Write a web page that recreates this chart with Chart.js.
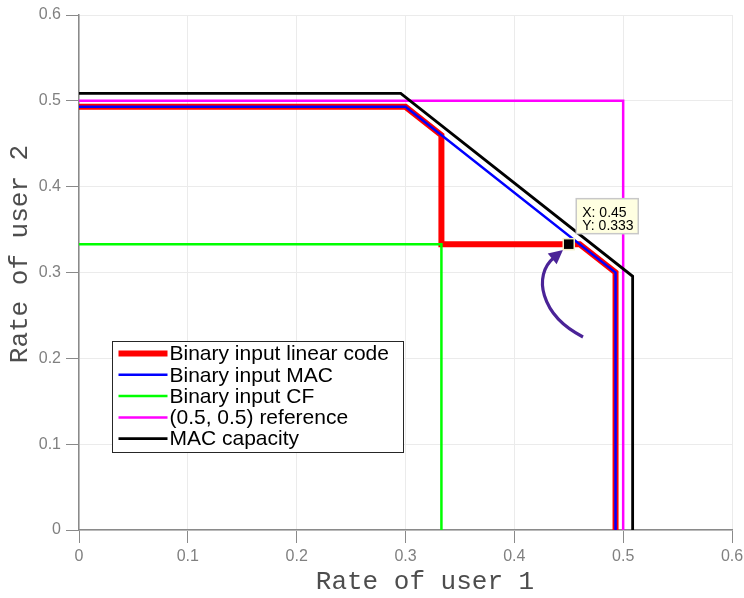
<!DOCTYPE html>
<html lang="en">
<head>
  <meta charset="UTF-8">
  <title>Rate region</title>
  <script src="https://cdn.jsdelivr.net/npm/chart.js"></script>
  <style>
    * { margin: 0; padding: 0; box-sizing: border-box; }
    body { background: #fff; width: 744px; height: 598px; overflow: hidden; }
    .wrap { position: relative; width: 744px; height: 598px; }
  </style>
</head>
<body>
  <div class="wrap"><canvas id="chart"></canvas></div>

  <script>
    // Series (x = rate of user 1, y = rate of user 2)
    const linearX = [0, 0.3, 0.333, 0.333, 0.46, 0.493, 0.493];
    const linearY = [0.493, 0.493, 0.46, 0.333, 0.333, 0.3, 0];
    const macX = [0, 0.3, 0.493, 0.493];
    const macY = [0.493, 0.493, 0.3, 0];
    const cfX = [0, 0.333, 0.333];
    const cfY = [0.333, 0.333, 0];
    const refX = [0, 0.5, 0.5];
    const refY = [0.5, 0.5, 0];
    const capX = [0, 0.2956, 0.5087, 0.5087];
    const capY = [0.5087, 0.5087, 0.2956, 0];

    const seriesNames = ['Binary input linear code', 'Binary input MAC', 'Binary input CF', '(0.5, 0.5) reference', 'MAC capacity'];
    const xTickLabels = ['0', '0.1', '0.2', '0.3', '0.4', '0.5', '0.6'];
    const yTickLabels = ['0', '0.1', '0.2', '0.3', '0.4', '0.5', '0.6'];

    // data tip + arrow (data units)
    const tipPoint = { x: 0.45, y: 0.333 };
    const arrowPath = [[0.4631, 0.2249], [0.4236, 0.2505], [0.4170, 0.2971], [0.4447, 0.3262]];

    const pts = (xs, ys) => xs.map((x, i) => ({ x, y: ys[i] }));

    function line(label, xs, ys, color, width, order) {
      return {
        label,
        data: pts(xs, ys),
        showLine: true,
        borderColor: color,
        backgroundColor: color,
        borderWidth: width,
        pointRadius: 0,
        borderCapStyle: 'butt',
        borderJoinStyle: 'miter',
        clip: false,
        order
      };
    }

    const datasets = [
      line(seriesNames[0], linearX, linearY, '#ff0000', 6, 5),
      line(seriesNames[1], macX, macY, '#0000ff', 2.5, 4),
      line(seriesNames[2], cfX, cfY, '#00ff00', 2.5, 3),
      line(seriesNames[3], refX, refY, '#ff00ff', 2.5, 2),
      line(seriesNames[4], capX, capY, '#000000', 2.8, 1)
    ];

    const extras = {
      id: 'extras',
      afterDatasetsDraw(chart) {
        const { ctx, chartArea: a, scales: { x, y } } = chart;
        ctx.save();

        // arrow
        const p = arrowPath.map(([dx, dy]) => [x.getPixelForValue(dx), y.getPixelForValue(dy)]);
        const tip = p[3];
        let ux = tip[0] - p[2][0], uy = tip[1] - p[2][1];
        const len = Math.hypot(ux, uy); ux /= len; uy /= len;
        const headLen = 14, headW = 7;
        const base = [tip[0] - ux * headLen, tip[1] - uy * headLen];
        ctx.strokeStyle = '#4a2397';
        ctx.fillStyle = '#4a2397';
        ctx.lineWidth = 3.2;
        ctx.beginPath();
        ctx.moveTo(p[0][0], p[0][1]);
        ctx.bezierCurveTo(p[1][0], p[1][1], p[2][0], p[2][1], base[0] + ux * 2, base[1] + uy * 2);
        ctx.stroke();
        ctx.beginPath();
        ctx.moveTo(tip[0], tip[1]);
        ctx.lineTo(base[0] - uy * headW, base[1] + ux * headW);
        ctx.lineTo(base[0] + uy * headW, base[1] - ux * headW);
        ctx.closePath();
        ctx.fill();

        // data tip marker
        const mx = x.getPixelForValue(tipPoint.x), my = y.getPixelForValue(tipPoint.y);
        ctx.fillStyle = '#000';
        ctx.strokeStyle = '#f3f0c8';
        ctx.lineWidth = 1.5;
        ctx.fillRect(mx - 5.5, my - 5.5, 11, 11);
        ctx.strokeRect(mx - 5.5, my - 5.5, 11, 11);

        // data tip box
        const bx = mx + 7.5, by = my - 45.5;
        ctx.fillStyle = '#ffffe1';
        ctx.strokeStyle = '#c8c8c8';
        ctx.lineWidth = 1.5;
        ctx.fillRect(bx, by, 62, 35);
        ctx.strokeRect(bx, by, 62, 35);
        ctx.fillStyle = '#000';
        ctx.font = '14px "Liberation Sans", Arial, sans-serif';
        ctx.textBaseline = 'alphabetic';
        ctx.textAlign = 'left';
        ctx.fillText('X: ' + tipPoint.x, bx + 6, by + 18);
        ctx.fillText('Y: ' + tipPoint.y, bx + 6, by + 31);

        // legend
        const lx = a.left + 33.5, ly = a.top + 326.5, lw = 291, lh = 111;
        ctx.fillStyle = '#fff';
        ctx.fillRect(lx, ly, lw, lh);
        ctx.strokeStyle = '#262626';
        ctx.lineWidth = 1;
        ctx.strokeRect(lx, ly, lw, lh);
        ctx.font = '21px "Liberation Sans", Arial, sans-serif';
        ctx.textBaseline = 'middle';
        chart.data.datasets.forEach((ds, i) => {
          const cy = ly + 12 + i * 21.3;
          ctx.strokeStyle = ds.borderColor;
          ctx.lineWidth = ds.borderWidth;
          ctx.beginPath();
          ctx.moveTo(lx + 6, cy);
          ctx.lineTo(lx + 55, cy);
          ctx.stroke();
          ctx.fillStyle = '#000';
          ctx.fillText(ds.label, lx + 57, cy + 1);
        });

        // axis titles
        ctx.fillStyle = '#4d4d4d';
        ctx.font = '26px "Liberation Mono", "DejaVu Sans Mono", monospace';
        ctx.textAlign = 'center';
        ctx.textBaseline = 'middle';
        ctx.fillText('Rate of user 1', 425, 582);
        ctx.translate(20, 254);
        ctx.rotate(-Math.PI / 2);
        ctx.fillText('Rate of user 2', 0, 0);
        ctx.restore();
      }
    };

    const axisCommon = {
      type: 'linear',
      min: 0,
      max: 0.6,
      grid: { color: '#ebebeb', lineWidth: 1, tickColor: '#8a8a8a', tickLength: 13, drawTicks: true },
      border: { color: '#8a8a8a', width: 1.5 },
      title: { display: false }
    };

    new Chart(document.getElementById('chart'), {
      type: 'scatter',
      data: { datasets },
      options: {
        responsive: true,
        maintainAspectRatio: false,
        animation: false,
        layout: { padding: { top: 15, right: 12, left: 0, bottom: 0 } },
        plugins: { legend: { display: false }, tooltip: { enabled: false } },
        scales: {
          x: {
            ...axisCommon,
            afterFit: s => { s.height = 68; s.paddingLeft = 0; s.paddingRight = 0; },
            ticks: {
              stepSize: 0.1,
              color: '#808080',
              padding: 4,
              font: { family: '"Liberation Sans", Arial, sans-serif', size: 16 },
              callback: (v, i) => xTickLabels[i]
            }
          },
          y: {
            ...axisCommon,
            afterFit: s => { s.width = 79; s.paddingTop = 0; s.paddingBottom = 0; },
            ticks: {
              stepSize: 0.1,
              color: '#808080',
              padding: 5,
              font: { family: '"Liberation Sans", Arial, sans-serif', size: 16 },
              callback: (v, i) => yTickLabels[i]
            }
          }
        }
      },
      plugins: [extras]
    });
  </script>
</body>
</html>
